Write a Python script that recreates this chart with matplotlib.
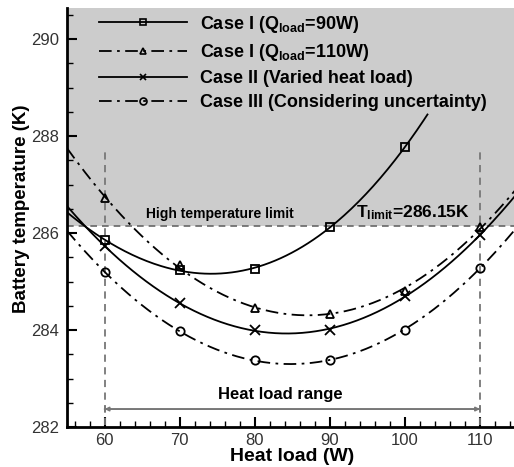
import numpy as np
import matplotlib
matplotlib.use('Agg')
import matplotlib.pyplot as plt
from matplotlib.ticker import MultipleLocator

plt.rcParams['font.family'] = 'Liberation Sans'
plt.rcParams['mathtext.fontset'] = 'custom'
plt.rcParams['mathtext.rm'] = 'Liberation Sans:bold'
plt.rcParams['mathtext.bf'] = 'Liberation Sans:bold'
plt.rcParams['mathtext.it'] = 'Liberation Sans:bold'
plt.rcParams['mathtext.default'] = 'bf'

# heat load values (W) and battery temperatures (K)
load_90 = [60, 70, 80, 90, 100]
temp_90 = [285.86, 285.24, 285.26, 286.13, 287.77]
load_all = [60, 70, 80, 90, 100, 110]
temp_110 = [286.72, 285.34, 284.46, 284.34, 284.81, 286.12]
temp_varied = [285.73, 284.56, 283.99, 284.01, 284.70, 285.96]
temp_uncert = [285.20, 283.97, 283.38, 283.38, 284.01, 285.28]

labels = ['Case I (Q$_{load}$=90W)', 'Case I (Q$_{load}$=110W)',
          'Case II (Varied heat load)', 'Case III (Considering uncertainty)']

t_limit = 286.15
ymax = 290.64

fig = plt.figure(figsize=(5.14, 4.67), dpi=100)
ax = fig.add_axes([67 / 514, 40 / 467, 450.6 / 514, 419 / 467])

# grey region above the temperature limit
ax.axhspan(t_limit, ymax, color='#cccccc', zorder=0, lw=0)
ax.axhline(t_limit, color='#666666', ls=(0, (4, 3)), lw=1.2, zorder=1)

dashdot = (0, (7, 3, 1.5, 3))
series = [
    (load_90, temp_90, '-', 's', 3, 103),
    (load_all, temp_110, dashdot, '^', 2, 115),
    (load_all, temp_varied, '-', 'x', 2, 115),
    (load_all, temp_uncert, dashdot, 'o', 2, 115),
]

# each curve is a polynomial fit through its markers
for (xs, ys, ls, mk, deg, xend), lab in zip(series, labels):
    coef = np.polyfit(xs, ys, deg)
    xf = np.linspace(55, xend, 200)
    ax.plot(xf, np.polyval(coef, xf), color='black', ls=ls, lw=1.3, zorder=3)
    ax.plot(xs, ys, ls='none', marker=mk, ms=6.5 if mk == 'x' else 6,
            mfc='none', mec='black', mew=1.3, zorder=4)
    ax.plot([], [], color='black', ls=ls, lw=1.3, marker=mk, ms=5,
            mfc='none', mec='black', mew=1.2, label=lab)

# heat load range markers
for xv in [60, 110]:
    ax.plot([xv, xv], [282.05, 287.72], color='#777777', ls=(0, (4, 3)),
            lw=1.3, zorder=2)
ax.annotate('', xy=(60, 282.37), xytext=(110, 282.37),
            arrowprops=dict(arrowstyle='|-|, widthA=0.2, widthB=0.2',
                            color='#777777', lw=1.2, shrinkA=0, shrinkB=0))
ax.annotate('', xy=(60, 282.37), xytext=(110, 282.37),
            arrowprops=dict(arrowstyle='<|-|>', color='#777777', lw=1.2,
                            mutation_scale=6, shrinkA=0, shrinkB=0))
ax.text(83.4, 282.66, 'Heat load range', fontsize=12, fontweight='bold',
        ha='center', va='center')

ax.text(75.4, 286.4, 'High temperature limit', fontsize=10,
        fontweight='bold', ha='center', va='center')
ax.text(101.1, 286.42, 'T$_{limit}$=286.15K', fontsize=12.5,
        fontweight='bold', ha='center', va='center')

ax.set_xlim(55, 115)
ax.set_ylim(282, ymax)
ax.xaxis.set_major_locator(MultipleLocator(10))
ax.xaxis.set_minor_locator(MultipleLocator(2))
ax.yaxis.set_major_locator(MultipleLocator(2))
ax.yaxis.set_minor_locator(MultipleLocator(0.5))
ax.tick_params(which='both', direction='in', colors='black',
               labelcolor='#333333', labelsize=12)
ax.tick_params(which='major', length=7, width=1.5)
ax.tick_params(which='minor', length=4, width=1)
ax.tick_params(axis='y', pad=6)
ax.tick_params(axis='x', pad=4)
for s in ['top', 'right']:
    ax.spines[s].set_visible(False)
for s in ['left', 'bottom']:
    ax.spines[s].set_linewidth(2)

ax.set_xlabel('Heat load (W)', fontsize=14, fontweight='bold', labelpad=0)
ax.set_ylabel('Battery temperature (K)', fontsize=13.5, fontweight='bold',
              labelpad=1)
ax.yaxis.set_label_coords(-0.083, 0.52)

ax.legend(loc='upper left', bbox_to_anchor=(0.035, 1.025), frameon=False,
          handlelength=4.9, labelspacing=0.4, handletextpad=0.7,
          prop={'weight': 'bold', 'size': 13})

fig.savefig('out.png', dpi=100)
